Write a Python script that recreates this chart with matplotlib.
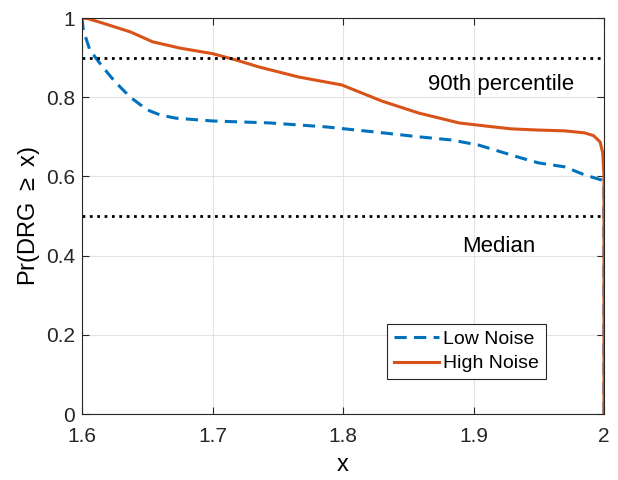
import numpy as np
import matplotlib.pyplot as plt

plt.rcParams['font.family'] = ['Liberation Sans', 'DejaVu Sans']
plt.rcParams['mathtext.fontset'] = 'custom'
plt.rcParams['mathtext.rm'] = 'Liberation Sans'

# curves
x_low = [1.6, 1.601, 1.606, 1.615, 1.625, 1.637, 1.650, 1.660, 1.672, 1.700, 1.744,
         1.787, 1.825, 1.858, 1.883, 1.904, 1.924, 1.937, 1.950, 1.970, 1.985, 1.998, 2.0, 2.0]
y_low = [1.0, 0.97, 0.919, 0.88, 0.84, 0.80, 0.768, 0.755, 0.747, 0.74, 0.735,
         0.725, 0.712, 0.70, 0.692, 0.679, 0.659, 0.646, 0.634, 0.624, 0.604, 0.591, 0.585, 0.0]

x_high = [1.6, 1.605, 1.616, 1.637, 1.654, 1.675, 1.700, 1.718, 1.736, 1.766, 1.799,
          1.830, 1.858, 1.889, 1.910, 1.929, 1.950, 1.970, 1.985, 1.992, 1.997, 1.999, 2.0, 2.0]
y_high = [1.0, 0.998, 0.987, 0.965, 0.94, 0.924, 0.91, 0.894, 0.876, 0.851, 0.831,
          0.79, 0.76, 0.735, 0.727, 0.72, 0.717, 0.715, 0.71, 0.703, 0.687, 0.66, 0.6, 0.0]

ref_levels = [0.9, 0.5]
ref_labels = ['90th percentile', 'Median']

fig = plt.figure(figsize=(6.18, 4.8), dpi=100)
ax = fig.add_axes([82 / 618, 66 / 480, 522 / 618, 396 / 480])

ax.plot(x_low, y_low, color='#0072BD', lw=2.2, dashes=(4, 2.4), label='Low Noise')
ax.plot(x_high, y_high, color='#D95319', lw=2.2, label='High Noise')
for lv in ref_levels:
    ax.axhline(lv, color='black', ls=':', lw=2)
ax.text(1.9215, 0.818, ref_labels[0], fontsize=16, ha='center', va='baseline')
ax.text(1.9195, 0.41, ref_labels[1], fontsize=16, ha='center', va='baseline')

ax.set_xlim(1.6, 2.0)
ax.set_ylim(0, 1)
ax.set_xticks([1.6, 1.7, 1.8, 1.9, 2.0])
ax.set_xticklabels(['1.6', '1.7', '1.8', '1.9', '2'])
ax.set_yticks([0, 0.2, 0.4, 0.6, 0.8, 1.0])
ax.set_yticklabels(['0', '0.2', '0.4', '0.6', '0.8', '1'])
ax.tick_params(direction='in', labelsize=15, length=5, colors='#262626', width=0.8)
ax.tick_params(axis='x', pad=9)
ax.tick_params(axis='y', pad=5)
ax.tick_params(top=True, right=True)
ax.grid(True, color='#e3e3e3', lw=0.8)
ax.set_axisbelow(True)
for s in ax.spines.values():
    s.set_color('#262626')
    s.set_linewidth(0.8)
ax.set_xlabel('x', fontsize=17, labelpad=6)
ax.set_ylabel(r'Pr(DRG $\geq$ x)', fontsize=17, labelpad=3)

leg = ax.legend(loc='lower right', bbox_to_anchor=(0.889, 0.088), fontsize=14,
                fancybox=False, framealpha=1, edgecolor='#262626',
                handlelength=2.3, borderpad=0.35, labelspacing=0.35,
                handletextpad=0.25, borderaxespad=0)
leg.get_frame().set_linewidth(0.8)

fig.savefig('out.png', dpi=100)
